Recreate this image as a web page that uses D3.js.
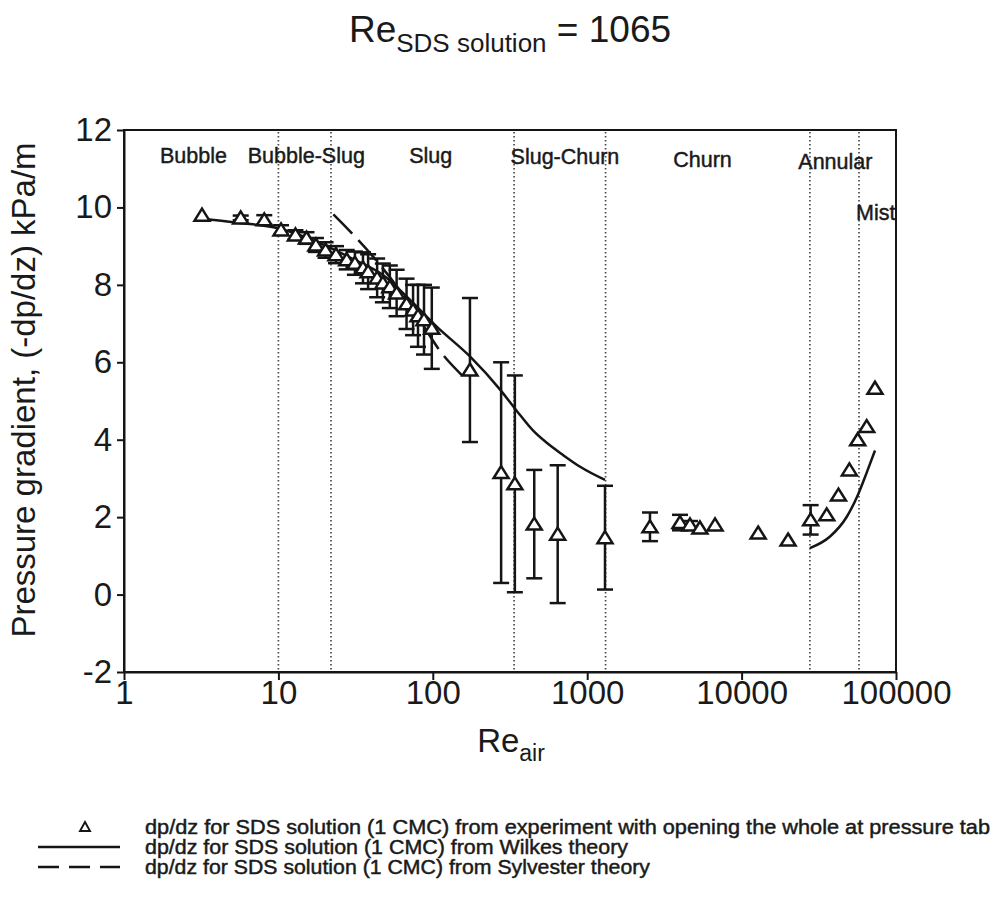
<!DOCTYPE html>
<html>
<head>
<meta charset="utf-8">
<script src="https://cdn.jsdelivr.net/npm/d3@7"></script>
<style>
  html, body { margin: 0; padding: 0; background: #fff; }
  svg { display: block; }
  text { font-family: "Liberation Sans", Arial, sans-serif; fill: #1a1a1a; }
  .narrow { font-family: "Liberation Sans Narrow", "Arial Narrow", "Liberation Sans", Arial, sans-serif; }
  .heavy { stroke: #1a1a1a; stroke-width: 0.45px; }
</style>
</head>
<body>
<svg id="chart" width="996" height="904"></svg>
<script>
// Measured pressure gradient vs. air Reynolds number (SDS solution, 1 CMC)
const reAir = [3.2, 5.7, 8.1, 10.4, 12.9, 15.2, 17.5, 20.2, 23.6, 27.7, 31.3, 35.3, 38.1, 43.6, 47.5,
  52.7, 58.3, 67.6, 74.5, 80.2, 87.7, 98.5, 174, 277, 340, 454, 644, 1304,
  2550, 3990, 4630, 5370, 6730, 12800, 20000, 28000, 35600, 42400, 49900, 56500, 64600, 73100];
const dpdz = [9.8, 9.73, 9.68, 9.42, 9.29, 9.21, 9.03, 8.9, 8.78, 8.65, 8.56, 8.44, 8.34, 8.18, 8.05,
  7.95, 7.79, 7.51, 7.35, 7.2, 7.1, 6.88, 5.8, 3.15, 2.86, 1.82, 1.56, 1.47,
  1.75, 1.86, 1.8, 1.72, 1.8, 1.59, 1.41, 1.93, 2.06, 2.57, 3.22, 4.0, 4.34, 5.33];
const dpdzErr = [0, 0.06, 0.12, 0.12, 0.12, 0.15, 0.18, 0.2, 0.22, 0.25, 0.3, 0.4, 0.45, 0.5, 0.5,
  0.55, 0.6, 0.65, 0.65, 0.8, 0.9, 1.05, 1.86, 2.85, 2.8, 1.4, 1.78, 1.34,
  0.37, 0.2, 0.1, 0, 0, 0, 0, 0.38, 0, 0, 0, 0, 0, 0];

// Wilkes theory (low-Re branch and annular branch)
const wilkesRe = [2.9, 5.6, 10.2, 20, 30, 47.8, 71, 106, 174, 272, 349, 450, 547, 700, 900, 1304];
const wilkesDp = [9.72, 9.6, 9.45, 9.02, 8.68, 8.25, 7.62, 6.92, 6.15, 5.3, 4.75, 4.22, 3.92, 3.6, 3.3, 2.96];
const wilkesAnnRe = [27700, 37400, 48000, 57000, 64600, 73100];
const wilkesAnnDp = [1.2, 1.5, 2.01, 2.6, 3.15, 3.72];

// Sylvester theory
const sylvesterRe = [22.7, 30.6, 41, 60, 85, 114, 154];
const sylvesterDp = [9.82, 9.29, 8.73, 7.9, 7.0, 6.24, 5.67];

// Flow-regime boundaries and names
const regimeBounds = [10, 21.9, 336, 1315, 27700, 57600];
const regimeNames = ["Bubble", "Bubble-Slug", "Slug", "Slug-Churn", "Churn", "Annular", "Mist"];
const regimeLabelRe = [1.71, 6.33, 70.4, 319, 3610, 23300, 55100];
const regimeLabelDp = [11.15, 11.15, 11.15, 11.13, 11.05, 10.98, 9.67];

const xTicks = [1, 10, 100, 1000, 10000, 100000];
const yTicks = [-2, 0, 2, 4, 6, 8, 10, 12];

const legendTexts = [
  "dp/dz for SDS solution (1 CMC) from experiment with opening the whole at pressure tab",
  "dp/dz for SDS solution (1 CMC) from Wilkes theory",
  "dp/dz for SDS solution (1 CMC) from Sylvester theory"
];

const svg = d3.select("#chart");
const ink = "#151515";
const plot = { left: 124, right: 896, top: 130, bottom: 672 };

const x = d3.scaleLog().domain([1, 100000]).range([plot.left, plot.right]);
const y = d3.scaleLinear().domain([-2, 12]).range([plot.bottom, plot.top]);

// Title
const title = svg.append("text").attr("x", 510).attr("y", 42).attr("text-anchor", "middle")
  .style("font-size", "37px");
title.append("tspan").text("Re");
title.append("tspan").attr("dy", 10).style("font-size", "26px").text("SDS solution");
title.append("tspan").attr("dy", -10).text(" = 1065");

// Regime boundaries (dotted)
svg.append("g").selectAll("line").data(regimeBounds).join("line")
  .attr("x1", d => x(d)).attr("x2", d => x(d))
  .attr("y1", plot.top + 2).attr("y2", plot.bottom)
  .attr("stroke", "#4a4a4a").attr("stroke-width", 1.7).attr("stroke-dasharray", "1.6,2.4");

// Regime labels
svg.append("g").selectAll("text").data(regimeNames).join("text")
  .attr("class", "heavy")
  .attr("x", (d, i) => x(regimeLabelRe[i]))
  .attr("y", (d, i) => y(regimeLabelDp[i]))
  .style("font-size", "21.5px")
  .text(d => d);

// Axes (plain hyphen for negative tick labels)
const plainFmt = d => String(d);
const xAxis = svg.append("g").attr("transform", `translate(0,${plot.bottom})`)
  .call(d3.axisBottom(x).tickValues(xTicks).tickFormat(plainFmt).tickSize(8).tickSizeOuter(0));
const yAxis = svg.append("g").attr("transform", `translate(${plot.left},0)`)
  .call(d3.axisLeft(y).tickValues(yTicks).tickFormat(plainFmt).tickSize(7).tickSizeOuter(0));
[xAxis, yAxis].forEach(g => {
  g.select(".domain").attr("stroke", ink).attr("stroke-width", 2);
  g.selectAll(".tick line").attr("stroke", ink).attr("stroke-width", 2);
  g.selectAll(".tick text").attr("fill", ink)
    .style("font-family", "'Liberation Sans', Arial, sans-serif").style("font-size", "33px");
});
xAxis.selectAll(".tick text").attr("dy", 0).attr("y", 32);
yAxis.selectAll(".tick text").attr("x", -12);

// Frame
svg.append("rect").attr("x", plot.left).attr("y", plot.top)
  .attr("width", plot.right - plot.left).attr("height", plot.bottom - plot.top)
  .attr("fill", "none").attr("stroke", ink).attr("stroke-width", 2);

// Axis titles
const xt = svg.append("text").attr("x", 511).attr("y", 752).attr("text-anchor", "middle")
  .style("font-size", "33px");
xt.append("tspan").text("Re");
xt.append("tspan").attr("dy", 9).style("font-size", "23px").text("air");

svg.append("text").attr("transform", "translate(35,390) rotate(-90)").attr("text-anchor", "middle")
  .style("font-size", "33px").text("Pressure gradient, (-dp/dz) kPa/m");

// Theory curves
const line = d3.line().x(d => x(d[0])).y(d => y(d[1])).curve(d3.curveMonotoneX);
svg.append("path").datum(d3.zip(wilkesRe, wilkesDp)).attr("d", line)
  .attr("fill", "none").attr("stroke", ink).attr("stroke-width", 2.5);
svg.append("path").datum(d3.zip(wilkesAnnRe, wilkesAnnDp)).attr("d", line)
  .attr("fill", "none").attr("stroke", ink).attr("stroke-width", 2.5);
svg.append("path").datum(d3.zip(sylvesterRe, sylvesterDp)).attr("d", line)
  .attr("fill", "none").attr("stroke", ink).attr("stroke-width", 2.5)
  .attr("stroke-dasharray", "27,9");

// Experimental points with error bars
const pts = reAir.map((r, i) => ({ re: r, dp: dpdz[i], err: dpdzErr[i] }));
const eb = svg.append("g").attr("stroke", ink).attr("stroke-width", 2.5);
pts.filter(d => d.err > 0).forEach(d => {
  const cx = x(d.re), y1 = y(d.dp + d.err), y2 = y(d.dp - d.err);
  eb.append("line").attr("x1", cx).attr("x2", cx).attr("y1", y1).attr("y2", y2);
  eb.append("line").attr("x1", cx - 8).attr("x2", cx + 8).attr("y1", y1).attr("y2", y1);
  eb.append("line").attr("x1", cx - 8).attr("x2", cx + 8).attr("y1", y2).attr("y2", y2);
});
const tri = "M0,-6.5L7.5,5.5L-7.5,5.5Z";
svg.append("g").selectAll("path").data(pts).join("path")
  .attr("d", tri)
  .attr("transform", d => `translate(${x(d.re)},${y(d.dp)})`)
  .attr("fill", "#fff").attr("stroke", ink).attr("stroke-width", 2.5).attr("stroke-linejoin", "miter");

// Legend
const lg = svg.append("g");
const rowY = [827, 847, 867];
lg.append("path").attr("d", "M0,-5L5,4L-5,4Z").attr("transform", `translate(85,${rowY[0]})`)
  .attr("fill", "#fff").attr("stroke", ink).attr("stroke-width", 1.9);
lg.append("line").attr("x1", 38).attr("x2", 120).attr("y1", rowY[1]).attr("y2", rowY[1])
  .attr("stroke", ink).attr("stroke-width", 2.3);
lg.append("line").attr("x1", 38).attr("x2", 120).attr("y1", rowY[2]).attr("y2", rowY[2])
  .attr("stroke", ink).attr("stroke-width", 2.3).attr("stroke-dasharray", "21,10");
const legendLen = [845, 483, 505];
lg.selectAll("text").data(legendTexts).join("text")
  .attr("class", "narrow heavy")
  .attr("x", 145).attr("y", (d, i) => rowY[i] + 6.5)
  .attr("textLength", (d, i) => legendLen[i]).attr("lengthAdjust", "spacingAndGlyphs")
  .style("font-size", "19.5px")
  .text(d => d);
</script>
</body>
</html>
